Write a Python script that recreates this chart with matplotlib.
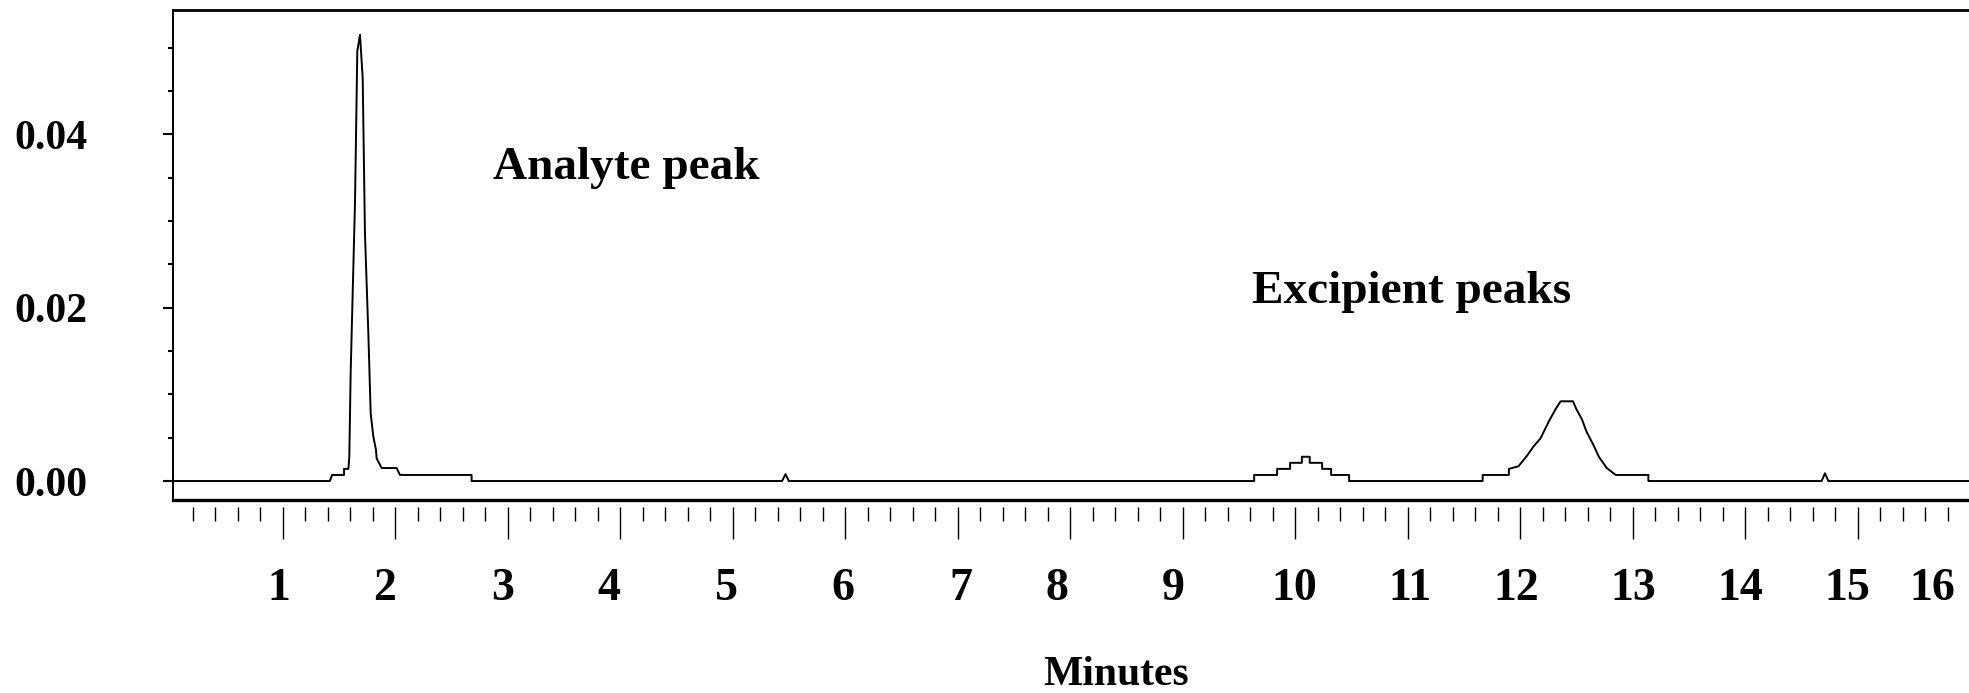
import matplotlib
matplotlib.use("Agg")
import matplotlib.pyplot as plt
from matplotlib.ticker import MultipleLocator, FixedLocator

# chromatogram trace (minutes, absorbance)
time_min = [0.03, 1.42, 1.44, 1.546, 1.546, 1.585, 1.593, 1.605, 1.644, 1.664,
            1.688, 1.712, 1.732, 1.762, 1.783, 1.807, 1.83, 1.836, 1.881, 2.014,
            2.043, 2.68, 2.68, 5.44, 5.47, 5.50, 9.636, 9.636, 9.84, 9.84,
            9.955, 9.955, 10.06, 10.06, 10.13, 10.13, 10.24, 10.24, 10.32, 10.32,
            10.48, 10.48, 11.667, 11.667, 11.90, 11.90, 11.985, 12.06, 12.12, 12.18,
            12.26, 12.32, 12.36, 12.47, 12.50, 12.55, 12.59, 12.65, 12.70, 12.77,
            12.85, 13.14, 13.14, 14.68, 14.71, 14.74, 15.99]
absorbance = [0.0, 0.0, 0.0007, 0.0007, 0.0014, 0.0014, 0.0028, 0.0125, 0.0324, 0.0496,
              0.0515, 0.0465, 0.0286, 0.0171, 0.0078, 0.0051, 0.0036, 0.0026, 0.0015, 0.0015,
              0.0007, 0.0007, 0.0, 0.0, 0.0008, 0.0, 0.0, 0.0007, 0.0007, 0.0014,
              0.0014, 0.0021, 0.0021, 0.0028, 0.0028, 0.0021, 0.0021, 0.0014, 0.0014, 0.0007,
              0.0007, 0.0, 0.0, 0.0007, 0.0007, 0.0014, 0.0017, 0.0029, 0.0040, 0.0049,
              0.0070, 0.0084, 0.0092, 0.0092, 0.0083, 0.0071, 0.0057, 0.0042, 0.0028, 0.0015,
              0.0007, 0.0007, 0.0, 0.0, 0.0009, 0.0, 0.0]

# x labels sit a little off the major ticks in the original
xlabel_pos = [0.97, 1.91, 2.955, 3.90, 4.95, 5.98, 7.03, 7.88, 8.92, 9.99,
              11.02, 11.97, 13.01, 13.96, 14.91, 15.66]
xlabel_txt = [str(i) for i in range(1, 17)]
ytick_pos = [0.0, 0.02, 0.04]
ytick_txt = ["0.00", "0.02", "0.04"]

plt.rcParams["font.family"] = ["Liberation Serif", "DejaVu Serif"]
plt.rcParams["font.weight"] = "bold"

fig = plt.figure(figsize=(19.69, 6.93), dpi=100)
ax = fig.add_axes([0.0881, 0.2785, 0.9119, 0.7071])

ax.plot(time_min, absorbance, color="black", lw=1.4)
ax.set_xlim(0.03, 15.99)
ax.set_ylim(-0.00219, 0.05436)

# frame
ax.spines["right"].set_visible(False)
ax.spines["top"].set_linewidth(2.0)
ax.spines["bottom"].set_linewidth(2.4)
ax.spines["left"].set_linewidth(1.4)

# y axis
ax.set_yticks(ytick_pos, ytick_txt)
ax.yaxis.set_minor_locator(MultipleLocator(0.005))
ax.tick_params(axis="y", which="major", length=7.2, width=1.5, pad=54.7, labelsize=30)
ax.tick_params(axis="y", which="minor", length=3.6, width=1.5)

# x labels on main axis (no marks)
ax.xaxis.set_major_locator(FixedLocator(xlabel_pos))
ax.set_xticklabels(xlabel_txt)
ax.tick_params(axis="x", which="both", length=0, pad=49, labelsize=33)

# x tick marks hang a little below the frame
sec = ax.secondary_xaxis(-7 / 490)
sec.spines["bottom"].set_visible(False)
sec.set_xticks(range(1, 16))
sec.xaxis.set_minor_locator(MultipleLocator(0.2))
sec.tick_params(axis="x", which="major", length=23, width=1.0, labelbottom=False)
sec.tick_params(axis="x", which="minor", length=10, width=1.0)

ax.set_xlabel("Minutes", fontsize=30, fontweight="bold")
ax.xaxis.set_label_coords(0.5248, -0.318)

ax.text(2.87, 0.0348, "Analyte peak", fontsize=34, fontweight="bold", ha="left", va="baseline")
ax.text(9.617, 0.0205, "Excipient peaks", fontsize=34, fontweight="bold", ha="left", va="baseline")

fig.savefig("out.png", dpi=100)
